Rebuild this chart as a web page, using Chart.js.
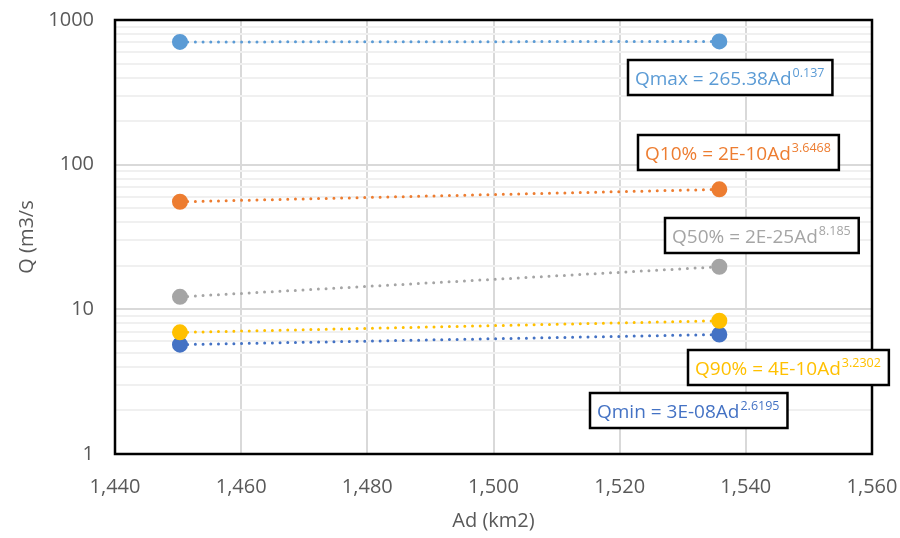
<!DOCTYPE html>
<html>
<head>
<meta charset="utf-8">
<script src="https://cdn.jsdelivr.net/npm/chart.js@4/dist/chart.umd.min.js"></script>
<style>
  html, body { margin: 0; padding: 0; background: #ffffff; }
  #wrap { width: 900px; height: 538px; }
</style>
</head>
<body>
<div id="wrap"><canvas id="c" width="900" height="538"></canvas></div>
<script>
// Drainage area (km2) of the two gauging stations
const areas = [1450.3, 1535.8];

// Discharge (m3/s) at each station
const qmax = [705, 711];
const q10  = [55.4, 67.5];
const q50  = [12.2, 19.7];
const q90  = [6.93, 8.34];
const qmin = [5.7, 6.7];

// Axis ticks
const xTicks = [1440, 1460, 1480, 1500, 1520, 1540, 1560];
const yMajor = [1, 10, 100, 1000];

// Fitted power-law equations shown next to each series
const eqnLabels = [
  { main: 'Qmax = 265.38Ad', exp: '0.137' },
  { main: 'Q10% = 2E-10Ad',  exp: '3.6468' },
  { main: 'Q50% = 2E-25Ad',  exp: '8.185' },
  { main: 'Q90% = 4E-10Ad',  exp: '3.2302' },
  { main: 'Qmin = 3E-08Ad',  exp: '2.6195' }
];

const colors = ['#5B9BD5', '#ED7D31', '#A5A5A5', '#FFC000', '#4472C4'];
const seriesValues = [qmax, q10, q50, q90, qmin];
const seriesNames = ['Qmax', 'Q10%', 'Q50%', 'Q90%', 'Qmin'];

const FONT = "'Open Sans', 'Liberation Sans', sans-serif";
const TEXT = '#595959';

const datasets = seriesValues.map((vals, i) => ({
  label: seriesNames[i],
  data: areas.map((a, k) => ({ x: a, y: vals[k] })),
  showLine: true,
  borderColor: colors[i],
  borderWidth: 3,
  borderDash: [0, 7.7],
  borderCapStyle: 'round',
  backgroundColor: colors[i],
  pointBackgroundColor: colors[i],
  pointBorderColor: colors[i],
  pointRadius: 6.5,
  pointHoverRadius: 6.5,
  tension: 0
}));

// Box positions of the equation labels (left, top) in canvas pixels
const boxPos = [
  { x: 628, y: 60 },
  { x: 638, y: 135 },
  { x: 665, y: 218 },
  { x: 688, y: 350 },
  { x: 590, y: 393 }
];

const framePlugin = {
  id: 'frame',
  afterDatasetsDraw(chart) {
    const { ctx, chartArea: a } = chart;
    ctx.save();
    ctx.strokeStyle = '#000000';
    ctx.lineWidth = 2.5;
    ctx.strokeRect(a.left, a.top, a.right - a.left, a.bottom - a.top);
    ctx.restore();
  },
  afterDraw(chart) {
    const { ctx } = chart;
    ctx.save();
    eqnLabels.forEach((lab, i) => {
      const p = boxPos[i];
      const mainFont = '19px ' + FONT;
      const expFont = '12.5px ' + FONT;
      ctx.font = mainFont;
      const wMain = ctx.measureText(lab.main).width;
      ctx.font = expFont;
      const wExp = ctx.measureText(lab.exp).width;
      const padX = 7;
      const w = wMain + wExp + padX * 2 + 2;
      const h = 35;
      ctx.fillStyle = '#ffffff';
      ctx.fillRect(p.x, p.y, w, h);
      ctx.strokeStyle = '#000000';
      ctx.lineWidth = 2.5;
      ctx.strokeRect(p.x, p.y, w, h);
      ctx.fillStyle = colors[i];
      ctx.textBaseline = 'alphabetic';
      ctx.textAlign = 'left';
      ctx.font = mainFont;
      const base = p.y + h / 2 + 7;
      ctx.fillText(lab.main, p.x + padX, base);
      ctx.font = expFont;
      ctx.fillText(lab.exp, p.x + padX + wMain + 1, base - 8);
    });
    ctx.restore();
  }
};

new Chart(document.getElementById('c'), {
  type: 'scatter',
  data: { datasets },
  plugins: [framePlugin],
  options: {
    responsive: false,
    animation: false,
    events: [],
    layout: { padding: { left: 0, right: 28, top: 20, bottom: 0 } },
    plugins: {
      legend: { display: false },
      tooltip: { enabled: false }
    },
    scales: {
      x: {
        type: 'linear',
        min: 1440,
        max: 1560,
        afterBuildTicks(scale) { scale.ticks = xTicks.map(v => ({ value: v })); },
        afterFit(scale) {
          scale.height = 84;
          scale.paddingLeft = 0;
          scale.paddingRight = 0;
        },
        grid: { color: '#d9d9d9', lineWidth: 2, drawTicks: false },
        border: { display: false },
        ticks: {
          color: TEXT,
          font: { family: FONT, size: 20 },
          padding: 21,
          maxRotation: 0,
          callback: v => Number(v).toLocaleString('en-US')
        },
        title: {
          display: true,
          text: 'Ad (km2)',
          color: TEXT,
          font: { family: FONT, size: 20 },
          padding: { top: 0, bottom: 5 }
        }
      },
      y: {
        type: 'logarithmic',
        min: 1,
        max: 1000,
        afterBuildTicks(scale) {
          const t = [];
          for (let d = 0; d < 3; d++) {
            for (let m = 1; m <= 9; m++) t.push({ value: m * Math.pow(10, d) });
          }
          t.push({ value: 1000 });
          scale.ticks = t;
        },
        afterFit(scale) {
          scale.width = 115;
          scale.paddingTop = 0;
          scale.paddingBottom = 0;
        },
        grid: {
          drawTicks: false,
          lineWidth: 2,
          color: ctx => (ctx.tick && yMajor.includes(ctx.tick.value)) ? '#d9d9d9' : '#f0f0f0'
        },
        border: { display: false },
        ticks: {
          color: TEXT,
          font: { family: FONT, size: 20 },
          padding: 21,
          autoSkip: false,
          callback: v => yMajor.includes(v) ? String(v) : ''
        },
        title: {
          display: true,
          text: 'Q (m3/s',
          color: TEXT,
          font: { family: FONT, size: 20 },
          padding: { top: 15, bottom: 0 }
        }
      }
    }
  }
});
</script>
</body>
</html>
